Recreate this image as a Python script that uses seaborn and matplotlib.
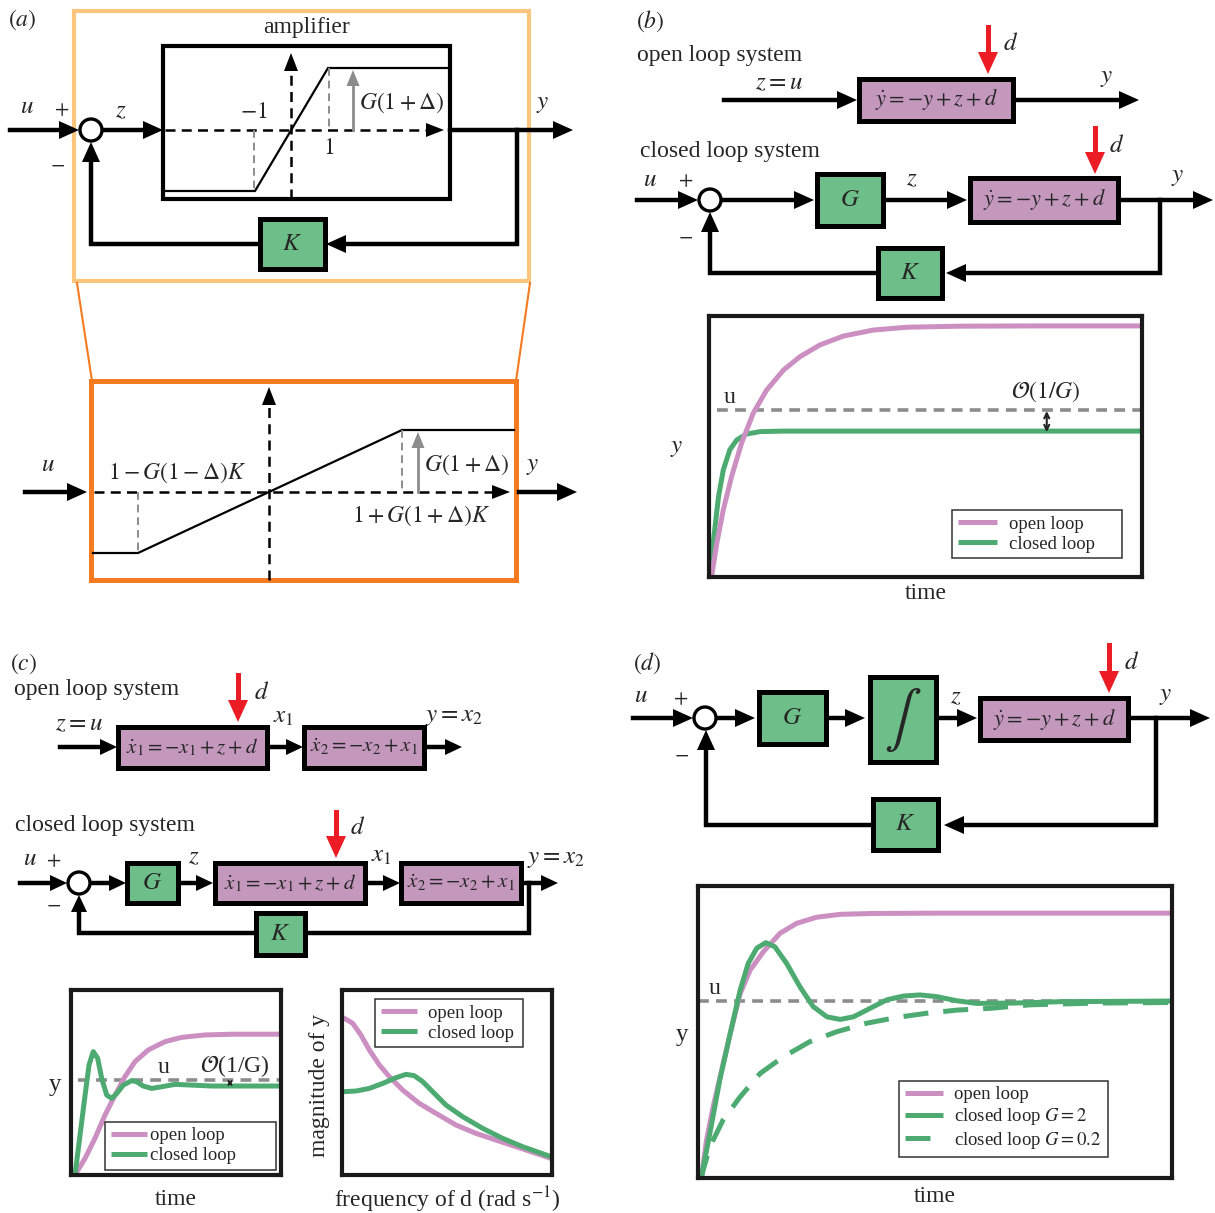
import numpy as np
import matplotlib
matplotlib.use("Agg")
import matplotlib.pyplot as plt
from matplotlib.patches import Rectangle, Circle, Polygon
import seaborn as sns

sns.set_style("white")
plt.rcParams["font.family"] = ["Liberation Serif", "DejaVu Serif"]
plt.rcParams["mathtext.fontset"] = "stix"

W, H = 1215, 1213

PINK = "#CC8FC2"
GREEN = "#4DAB72"
BOX_PURPLE = "#C497BD"
BOX_GREEN = "#6DBE88"
LIGHT_ORANGE = "#FBC57E"
ORANGE = "#F47B20"
RED = "#EC1C24"
GREY = "#8C8C8C"
DASH = (0, (4, 2.5))

# ---- data (time / frequency and response, both scaled 0..1) ----
# (b) first order plant, open vs closed loop
b_open_t = [0.0, 0.006, 0.018, 0.033, 0.052, 0.075, 0.102, 0.133, 0.172, 0.210, 0.256, 0.310,
            0.379, 0.457, 0.580, 0.75, 1.0]
b_open_y = [0.0, 0.001, 0.129, 0.257, 0.384, 0.512, 0.627, 0.716, 0.793, 0.844, 0.889, 0.923,
            0.946, 0.957, 0.961, 0.962, 0.962]
b_closed_t = [0.0, 0.004, 0.014, 0.022, 0.033, 0.048, 0.064, 0.087, 0.118, 0.172, 1.0]
b_closed_y = [0.0, 0.05, 0.193, 0.308, 0.410, 0.487, 0.525, 0.548, 0.557, 0.559, 0.559]
b_u = 0.640

# (c) second order plant, step response
c_open_t = [0.0, 0.019, 0.067, 0.114, 0.162, 0.210, 0.257, 0.305, 0.368, 0.448, 0.527, 0.638, 0.765, 1.0]
c_open_y = [0.0, 0.0, 0.090, 0.198, 0.324, 0.432, 0.532, 0.613, 0.676, 0.721, 0.744, 0.757, 0.761, 0.761]
c_closed_t = [0.0, 0.019, 0.043, 0.067, 0.086, 0.106, 0.127, 0.146, 0.170, 0.194, 0.218, 0.249,
              0.289, 0.313, 0.344, 0.384, 0.432, 0.495, 0.575, 0.670, 1.0]
c_closed_y = [0.0, 0.0, 0.216, 0.432, 0.595, 0.667, 0.631, 0.523, 0.432, 0.414, 0.441, 0.486,
              0.510, 0.504, 0.481, 0.468, 0.477, 0.490, 0.486, 0.481, 0.481]
c_u = 0.514

# (c) magnitude of y against frequency of d
c_freq_open = [0.0, 0.011, 0.051, 0.090, 0.130, 0.178, 0.225, 0.289, 0.368, 0.448, 0.543, 0.638,
               0.733, 0.829, 0.924, 1.0]
c_mag_open = [0.852, 0.847, 0.820, 0.757, 0.676, 0.595, 0.532, 0.459, 0.387, 0.333, 0.270, 0.225,
              0.189, 0.153, 0.117, 0.088]
c_freq_closed = [0.0, 0.067, 0.130, 0.194, 0.257, 0.305, 0.344, 0.384, 0.432, 0.495, 0.575, 0.670,
                 0.765, 0.860, 1.0]
c_mag_closed = [0.450, 0.454, 0.468, 0.495, 0.526, 0.544, 0.537, 0.505, 0.450, 0.378, 0.315, 0.252,
                0.198, 0.153, 0.097]

# (d) integral control
d_open_t = [0.0, 0.008, 0.018, 0.032, 0.050, 0.068, 0.089, 0.110, 0.138, 0.173, 0.208, 0.250,
            0.300, 0.370, 0.5, 1.0]
d_open_y = [0.0, 0.01, 0.130, 0.244, 0.370, 0.495, 0.632, 0.712, 0.775, 0.838, 0.872, 0.893,
            0.903, 0.906, 0.907, 0.907]
d_g2_t = [0.0, 0.008, 0.025, 0.046, 0.068, 0.089, 0.106, 0.124, 0.143, 0.162, 0.187, 0.215,
          0.243, 0.272, 0.300, 0.328, 0.363, 0.398, 0.433, 0.468, 0.504, 0.546, 0.588, 0.665,
          0.77, 1.0]
d_g2_y = [0.0, 0.01, 0.153, 0.336, 0.495, 0.644, 0.735, 0.787, 0.806, 0.792, 0.735, 0.655,
          0.587, 0.552, 0.543, 0.552, 0.581, 0.610, 0.623, 0.627, 0.621, 0.607, 0.598, 0.599,
          0.604, 0.606]
d_g02_t = [0.0, 0.008, 0.025, 0.053, 0.089, 0.131, 0.180, 0.236, 0.293, 0.356, 0.419, 0.482,
           0.546, 0.616, 0.70, 0.84, 1.0]
d_g02_y = [0.0, 0.01, 0.107, 0.199, 0.278, 0.358, 0.415, 0.467, 0.501, 0.530, 0.550, 0.564,
           0.575, 0.581, 0.593, 0.599, 0.601]
d_u = 0.606

fig = plt.figure(figsize=(W / 100, H / 100), dpi=100)
bg = fig.add_axes([0, 0, 1, 1])
bg.set_xlim(0, W)
bg.set_ylim(H, 0)
bg.axis("off")


def line(xs, ys, lw=3.2, color="black", **kw):
    bg.plot(xs, ys, color=color, lw=lw, solid_joinstyle="miter",
            solid_capstyle="projecting", **kw)


def arrow(xs, ys, lw=3.2, color="black", hl=20, hw=18, **kw):
    xs = [float(v) for v in xs]
    ys = [float(v) for v in ys]
    dx, dy = xs[-1] - xs[-2], ys[-1] - ys[-2]
    L = np.hypot(dx, dy)
    ux, uy = dx / L, dy / L
    tx, ty = xs[-1], ys[-1]
    bx, by = tx - ux * hl, ty - uy * hl
    xs[-1], ys[-1] = bx, by
    line(xs, ys, lw=lw, color=color, **kw)
    nx, ny = -uy * hw / 2, ux * hw / 2
    bg.add_patch(Polygon([(tx, ty), (bx + nx, by + ny), (bx - nx, by - ny)],
                         closed=True, fc=color, ec="none", zorder=4))


def box(x0, y0, x1, y1, fc, txt=None, fs=17, lw=3.6):
    bg.add_patch(Rectangle((x0, y0), x1 - x0, y1 - y0, fc=fc, ec="black", lw=lw,
                           zorder=3, joinstyle="miter"))
    if txt:
        bg.text((x0 + x1) / 2, (y0 + y1) / 2, txt, ha="center", va="center",
                fontsize=fs, zorder=5)


def junction(x, y, r=11):
    bg.add_patch(Circle((x, y), r, fc="white", ec="black", lw=2.4, zorder=4))


def label(x, y, s, fs=18, **kw):
    bg.text(x, y, s, ha="center", va="center", fontsize=fs, **kw)


def heading(x, y, s):
    bg.text(x, y, s, ha="left", va="center", fontsize=17)


# ================= (a) =================
label(22, 20, r"$(a)$", fs=17)
bg.add_patch(Rectangle((74, 11), 455, 270, fill=False, ec=LIGHT_ORANGE, lw=3))
label(307, 28, "amplifier", fs=17)
bg.add_patch(Rectangle((163, 46), 287, 153, fill=False, ec="black", lw=3, joinstyle="miter"))
arrow([165, 444], [130, 130], lw=1.8, hl=18, hw=14, ls=DASH)
arrow([291, 291], [199, 53], lw=1.8, hl=18, hw=14, ls=DASH)
line([165, 255, 328, 448], [191, 191, 68, 68], lw=1.6)
line([254, 254], [130, 191], lw=1.4, color=GREY, ls=DASH)
line([329, 329], [68, 130], lw=1.4, color=GREY, ls=DASH)
arrow([353, 353], [130, 70], lw=2, color=GREY, hl=16, hw=13)
label(254, 113, r"$-1$", fs=17)
label(329, 148, r"$1$", fs=17)
label(402, 103, r"$G(1+\Delta)$", fs=17)

arrow([10, 79], [130, 130])
junction(91, 130)
label(27, 107, r"$u$")
label(62, 111, r"$+$", fs=15)
label(58, 165, r"$-$", fs=15)
arrow([102, 163], [130, 130])
label(121, 111, r"$z$")
arrow([450, 573], [130, 130])
label(543, 104, r"$y$")
arrow([517, 517, 326], [130, 244, 244])
box(260, 219, 325, 269, BOX_GREEN, r"$K$", fs=18)
arrow([260, 91, 91], [244, 244, 142])

line([77, 92], [283, 381], lw=1.5, color=ORANGE)
line([530, 516], [283, 381], lw=1.5, color=ORANGE)
bg.add_patch(Rectangle((91, 381), 425, 199, fill=False, ec=ORANGE, lw=3.6))
arrow([94, 510], [492, 492], lw=1.8, hl=18, hw=14, ls=DASH)
arrow([269, 269], [580, 387], lw=1.8, hl=18, hw=14, ls=DASH)
line([93, 138, 402, 514], [553, 553, 430, 430], lw=1.6)
line([138, 138], [492, 553], lw=1.4, color=GREY, ls=DASH)
line([402, 402], [430, 492], lw=1.4, color=GREY, ls=DASH)
arrow([418, 418], [492, 432], lw=2, color=GREY, hl=16, hw=13)
label(177, 473, r"$1-G(1-\Delta)K$", fs=17)
label(467, 465, r"$G(1+\Delta)$", fs=17)
label(421, 516, r"$1+G(1+\Delta)K$", fs=17)
label(48, 465, r"$u$")
label(533, 466, r"$y$")
arrow([25, 87], [492, 492])
arrow([519, 577], [492, 492])

# ================= (b) =================
label(650, 21, r"$(b)$", fs=17)
heading(637, 56, "open loop system")
label(779, 83, r"$z=u$")
arrow([724, 857], [100, 100])
box(859, 79, 1013, 121, BOX_PURPLE, r"$\dot{y}=-y+z+d$", fs=16)
arrow([1013, 1139], [100, 100])
label(1107, 78, r"$y$")
arrow([988, 988], [27, 74], color=RED, lw=3.6, hl=22, hw=20)
label(1011, 44, r"$d$")

heading(640, 152, "closed loop system")
label(650, 180, r"$u$")
label(686, 182, r"$+$", fs=15)
label(686, 237, r"$-$", fs=15)
arrow([637, 698], [200, 200])
junction(710, 200)
arrow([721, 814], [200, 200])
box(817, 174, 883, 226, BOX_GREEN, r"$G$", fs=18)
arrow([883, 967], [200, 200])
label(912, 179, r"$z$")
box(970, 178, 1118, 222, BOX_PURPLE, r"$\dot{y}=-y+z+d$", fs=16)
arrow([1095, 1095], [128, 174], color=RED, lw=3.6, hl=22, hw=20)
label(1117, 146, r"$d$")
arrow([1118, 1213], [200, 200])
label(1178, 177, r"$y$")
arrow([1160, 1160, 946], [200, 273, 273])
box(878, 248, 942, 298, BOX_GREEN, r"$K$", fs=18)
arrow([878, 710, 710], [273, 273, 212])

# ================= (c) =================
label(24, 664, r"$(c)$", fs=17)
heading(14, 690, "open loop system")
label(79, 724, r"$z=u$")
arrow([60, 117], [747, 747], hl=17, hw=16)
box(118, 727, 267, 768, BOX_PURPLE, r"$\dot{x}_1=-x_1+z+d$", fs=15)
arrow([267, 303], [747, 747], hl=17, hw=16)
box(304, 727, 424, 768, BOX_PURPLE, r"$\dot{x}_2=-x_2+x_1$", fs=15)
arrow([424, 462], [747, 747], hl=17, hw=16)
arrow([238, 238], [675, 722], color=RED, lw=3.6, hl=22, hw=20)
label(262, 693, r"$d$")
label(283, 717, r"$x_1$")
label(454, 717, r"$y=x_2$")

heading(15, 825, "closed loop system")
label(30, 859, r"$u$")
label(54, 862, r"$+$", fs=15)
label(54, 905, r"$-$", fs=15)
arrow([20, 67], [883, 883], hl=17, hw=16)
junction(79, 883)
arrow([90, 126], [883, 883], hl=17, hw=16)
box(127, 863, 178, 903, BOX_GREEN, r"$G$", fs=18)
arrow([178, 213], [883, 883], hl=17, hw=16)
label(194, 857, r"$z$")
box(215, 863, 365, 903, BOX_PURPLE, r"$\dot{x}_1=-x_1+z+d$", fs=15)
arrow([336, 336], [812, 858], color=RED, lw=3.6, hl=22, hw=20)
label(358, 828, r"$d$")
arrow([365, 400], [883, 883], hl=17, hw=16)
label(381, 856, r"$x_1$")
box(401, 863, 521, 903, BOX_PURPLE, r"$\dot{x}_2=-x_2+x_1$", fs=15)
arrow([521, 558], [883, 883], hl=17, hw=16)
label(556, 859, r"$y=x_2$")
arrow([529, 529, 79, 79], [883, 933, 933, 895], hl=17, hw=16)
box(256, 913, 305, 955, BOX_GREEN, r"$K$", fs=18)

# ================= (d) =================
label(647, 663, r"$(d)$", fs=17)
label(641, 696, r"$u$")
label(681, 700, r"$+$", fs=15)
label(681, 755, r"$-$", fs=15)
arrow([633, 693], [718, 718])
junction(705, 718)
arrow([716, 755], [718, 718])
box(759, 692, 826, 744, BOX_GREEN, r"$G$", fs=18)
arrow([826, 865], [718, 718])
box(870, 677, 936, 762, BOX_GREEN, r"$\int$", fs=40)
arrow([936, 977], [718, 718])
label(956, 697, r"$z$")
box(980, 698, 1128, 740, BOX_PURPLE, r"$\dot{y}=-y+z+d$", fs=16)
arrow([1109, 1109], [645, 693], color=RED, lw=3.6, hl=22, hw=20)
label(1132, 663, r"$d$")
arrow([1128, 1210], [718, 718])
label(1166, 696, r"$y$")
arrow([1156, 1156, 944], [718, 825, 825])
box(873, 799, 938, 850, BOX_GREEN, r"$K$", fs=18)
arrow([873, 706, 706], [825, 825, 730])


# ================= plots =================
def panel_axes(x0, y0, x1, y1):
    ax = fig.add_axes([x0 / W, 1 - y1 / H, (x1 - x0) / W, (y1 - y0) / H])
    ax.set_xlim(0, 1)
    ax.set_ylim(0, 1)
    ax.set_xticks([])
    ax.set_yticks([])
    for s in ax.spines.values():
        s.set_linewidth(3)
        s.set_color("#1a1a1a")
    return ax


def add_legend(ax, anchor, handles=None, labels=None, fs=13.5, hlen=2.1, pad=0.7):
    args = () if handles is None else (handles, labels)
    leg = ax.legend(*args, loc="lower left", bbox_to_anchor=anchor, mode="expand",
                    borderaxespad=0, fontsize=fs, fancybox=False, framealpha=1,
                    edgecolor="#333333", handlelength=hlen, handletextpad=pad,
                    labelspacing=0.15, borderpad=0.3)
    leg.get_frame().set_linewidth(1.1)


curve = dict(lw=3.6, solid_joinstyle="round", solid_capstyle="butt")

# (b)
ax = panel_axes(709, 316, 1142, 577)
ax.axhline(b_u, xmin=0.018, color=GREY, lw=2.6, ls=(0, (3, 2)))
sns.lineplot(x=b_closed_t, y=b_closed_y, ax=ax, color=GREEN, label="closed loop", **curve)
sns.lineplot(x=b_open_t, y=b_open_y, ax=ax, color=PINK, label="open loop", **curve)
ax.annotate("", xy=(0.78, b_u - 0.004), xytext=(0.78, b_closed_y[-1] - 0.004),
            arrowprops=dict(arrowstyle="<->", lw=1.5, color="#222", mutation_scale=9,
                            shrinkA=0, shrinkB=0))
ax.text(0.047, 0.688, "u", fontsize=17, ha="center", va="center", transform=ax.transAxes)
ax.text(0.778, 0.708, r"$\mathcal{O}(1/G)$", fontsize=17, ha="center", va="center",
        transform=ax.transAxes)
ax.text(-0.074, 0.494, r"$y$", fontsize=18, ha="center", va="center", transform=ax.transAxes)
ax.text(0.5, -0.065, "time", fontsize=17, ha="center", va="center", transform=ax.transAxes)
h, l = ax.get_legend_handles_labels()
add_legend(ax, (0.561, 0.072, 0.393, 0.187), h[::-1], l[::-1], hlen=2.1, pad=0.65)

# (c) time response
ax = panel_axes(71, 990, 281, 1175)
ax.axhline(c_u, xmin=0.034, color=GREY, lw=2.6, ls=(0, (3, 2)))
sns.lineplot(x=c_open_t, y=c_open_y, ax=ax, color=PINK, label="open loop", **curve)
sns.lineplot(x=c_closed_t, y=c_closed_y, ax=ax, color=GREEN, label="closed loop", **curve)
ax.annotate("", xy=(0.757, c_u), xytext=(0.757, c_closed_y[-1]),
            arrowprops=dict(arrowstyle="<->", lw=1.2, color="#222", mutation_scale=6,
                            shrinkA=0, shrinkB=0))
ax.text(0.44, 0.58, "u", fontsize=17, ha="center", va="center", transform=ax.transAxes)
ax.text(0.781, 0.59, r"$\mathcal{O}$(1/G)", fontsize=17, ha="center", va="center",
        transform=ax.transAxes)
ax.text(-0.076, 0.486, "y", fontsize=18, ha="center", va="center", transform=ax.transAxes)
ax.text(0.5, -0.135, "time", fontsize=17, ha="center", va="center", transform=ax.transAxes)
add_legend(ax, (0.162, 0.027, 0.813, 0.252), hlen=1.95, pad=0.15)

# (c) frequency response
ax = panel_axes(342, 990, 552, 1175)
sns.lineplot(x=c_freq_open, y=c_mag_open, ax=ax, color=PINK, label="open loop", **curve)
sns.lineplot(x=c_freq_closed, y=c_mag_closed, ax=ax, color=GREEN, label="closed loop", **curve)
ax.text(-0.105, 0.486, "magnitude of y", fontsize=17, rotation=90, ha="center", va="center",
        transform=ax.transAxes)
ax.text(0.5, -0.135, r"frequency of d (rad s$^{-1}$)", fontsize=17, ha="center", va="center",
        transform=ax.transAxes)
add_legend(ax, (0.159, 0.69, 0.705, 0.265), hlen=1.9, pad=0.6)

# (d)
ax = panel_axes(698, 886, 1172, 1178)
ax.axhline(d_u, color=GREY, lw=2.6, ls=(0, (3, 2)))
sns.lineplot(x=d_open_t, y=d_open_y, ax=ax, color=PINK, label="open loop", **curve)
sns.lineplot(x=d_g2_t, y=d_g2_y, ax=ax, color=GREEN, label=r"closed loop $G=2$", **curve)
sns.lineplot(x=d_g02_t, y=d_g02_y, ax=ax, color=GREEN, linestyle=(0, (5, 3)),
             label=r"closed loop $G=0.2$", **curve)
ax.text(0.034, 0.65, "u", fontsize=17, ha="center", va="center", transform=ax.transAxes)
ax.text(-0.034, 0.49, "y", fontsize=18, ha="center", va="center", transform=ax.transAxes)
ax.text(0.5, -0.065, "time", fontsize=17, ha="center", va="center", transform=ax.transAxes)
add_legend(ax, (0.425, 0.073, 0.44, 0.26), hlen=2.0, pad=0.6)

fig.savefig("out.png", dpi=100, facecolor="white")
